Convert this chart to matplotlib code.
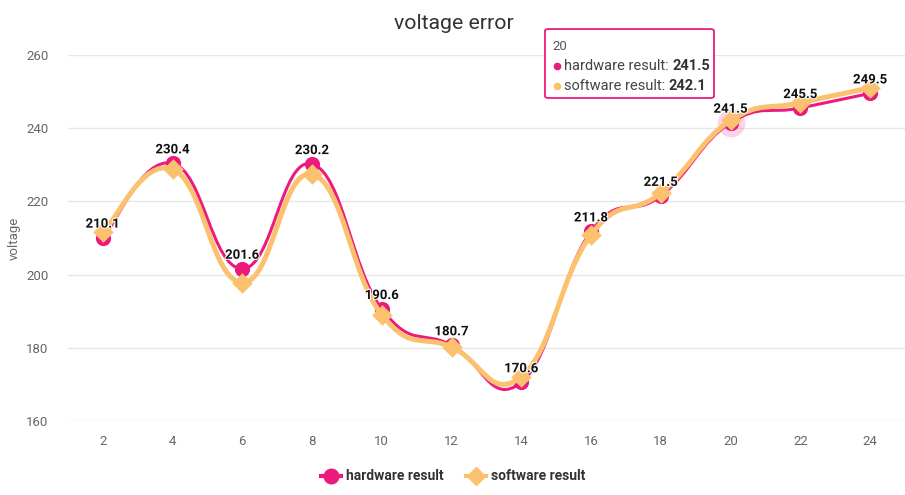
import numpy as np
from matplotlib import pyplot as plt
from matplotlib.path import Path
from matplotlib.patches import PathPatch, FancyBboxPatch
import matplotlib.patheffects as pe

plt.rcParams['font.family'] = ['Roboto', 'DejaVu Sans']

steps = [2, 4, 6, 8, 10, 12, 14, 16, 18, 20, 22, 24]
hardware = [210.1, 230.4, 201.6, 230.2, 190.6, 180.7, 170.6, 211.8, 221.5, 241.5, 245.5, 249.5]
software = [211.5, 228.8, 197.8, 227.4, 189.0, 180.2, 172.1, 210.9, 222.3, 242.1, 246.9, 251.0]
yticks = [160, 180, 200, 220, 240, 260]
hover = 9  # index of the point under the tooltip

PINK = '#ec1a7d'
ORANGE = '#fcc16f'


def smooth_path(xs, ys, k=0.22):
    # bezier curve through points, like a smoothed line series
    pts = np.column_stack([xs, ys]).astype(float)
    verts = [pts[0]]
    codes = [Path.MOVETO]
    n = len(pts)
    for i in range(n - 1):
        prev = pts[i - 1] if i > 0 else pts[i]
        nxt = pts[i + 2] if i + 2 < n else pts[i + 1]
        c1 = pts[i] + (pts[i + 1] - prev) * k
        c2 = pts[i + 1] - (nxt - pts[i]) * k
        verts += [c1, c2, pts[i + 1]]
        codes += [Path.CURVE4] * 3
    return Path(verts, codes)


fig = plt.figure(figsize=(9.05, 4.95), dpi=100)
ax = fig.add_axes([0.075, 0.1495, 0.925, 0.7395])

ax.add_patch(PathPatch(smooth_path(steps, hardware), fill=False,
                       edgecolor=PINK, lw=2.2, zorder=3, capstyle='round'))
ax.scatter(steps, hardware, s=120, color=PINK, zorder=4, linewidths=0)
ax.scatter([steps[hover]], [hardware[hover]], s=400, color=PINK, alpha=0.18,
           zorder=4, linewidths=0)

ax.add_patch(PathPatch(smooth_path(steps, software), fill=False,
                       edgecolor=ORANGE, lw=3.6, zorder=5, capstyle='round'))
ax.scatter(steps, software, s=110, marker='D', color=ORANGE, zorder=6, linewidths=0)

for x, y in zip(steps, hardware):
    ax.annotate(f"{y:.1f}", (x, y), xytext=(0, 5), textcoords='offset points',
                ha='center', va='bottom', fontsize=9.5, fontweight='bold',
                color='#111111', zorder=8,
                path_effects=[pe.withStroke(linewidth=1.5, foreground='white')])

ax.set_xlim(1, 25)
ax.set_ylim(160, 260)
ax.set_xticks(steps)
ax.set_yticks(yticks)
ax.tick_params(length=0, labelsize=9.5, colors='#666666')
ax.tick_params(axis='x', pad=10)
ax.tick_params(axis='y', pad=14)
ax.grid(axis='y', color='#e6e6e6', lw=1)
ax.set_axisbelow(True)
for s in ax.spines.values():
    s.set_visible(False)
ax.set_ylabel("voltage", fontsize=9.5, color='#666666', labelpad=4)

fig.text(0.502, 0.953, "voltage error", ha='center', va='center',
         fontsize=15.3, color='#333333')

# legend
ly = 1 - 476 / 495
for xp, mk, col, lab in [(331, 'o', PINK, 'hardware result'),
                         (476, 'D', ORANGE, 'software result')]:
    fig.add_artist(plt.Line2D([(xp - 10) / 905, (xp + 10) / 905], [ly, ly],
                              color=col, lw=3, transform=fig.transFigure))
    fig.add_artist(plt.Line2D([xp / 905], [ly], marker=mk, color=col,
                              markersize=10.5 if mk == 'o' else 9.5,
                              transform=fig.transFigure))
    fig.text((xp + 15) / 905, ly, lab, ha='left', va='center', fontsize=10,
             fontweight='bold', color='#333333')

# tooltip
box = FancyBboxPatch((545 / 905, 1 - 98 / 495), 169 / 905, 69 / 495,
                     boxstyle='round,pad=0,rounding_size=0.004',
                     transform=fig.transFigure, facecolor='white',
                     edgecolor=PINK, lw=1.3, zorder=10)
fig.add_artist(box)
fig.text(552 / 905, 1 - 46 / 495, str(steps[hover]), fontsize=9.5,
         color='#555555', va='center', zorder=11)
for yy, col, lab, val in [(66, PINK, 'hardware result: ', hardware[hover]),
                          (86, ORANGE, 'software result: ', software[hover])]:
    fig.add_artist(plt.Line2D([557 / 905], [1 - yy / 495], marker='o',
                              color=col, markersize=4.5,
                              transform=fig.transFigure, zorder=11))
    t = fig.text(564 / 905, 1 - yy / 495, lab, fontsize=10.5, color='#444444',
                 va='center', zorder=11)
    fig.canvas.draw()
    bb = t.get_window_extent()
    fig.text(bb.x1 / 905, 1 - yy / 495, f"{val:.1f}", fontsize=10.5,
             fontweight='bold', color='#333333', va='center', zorder=11)

fig.savefig("out.png", dpi=100)
